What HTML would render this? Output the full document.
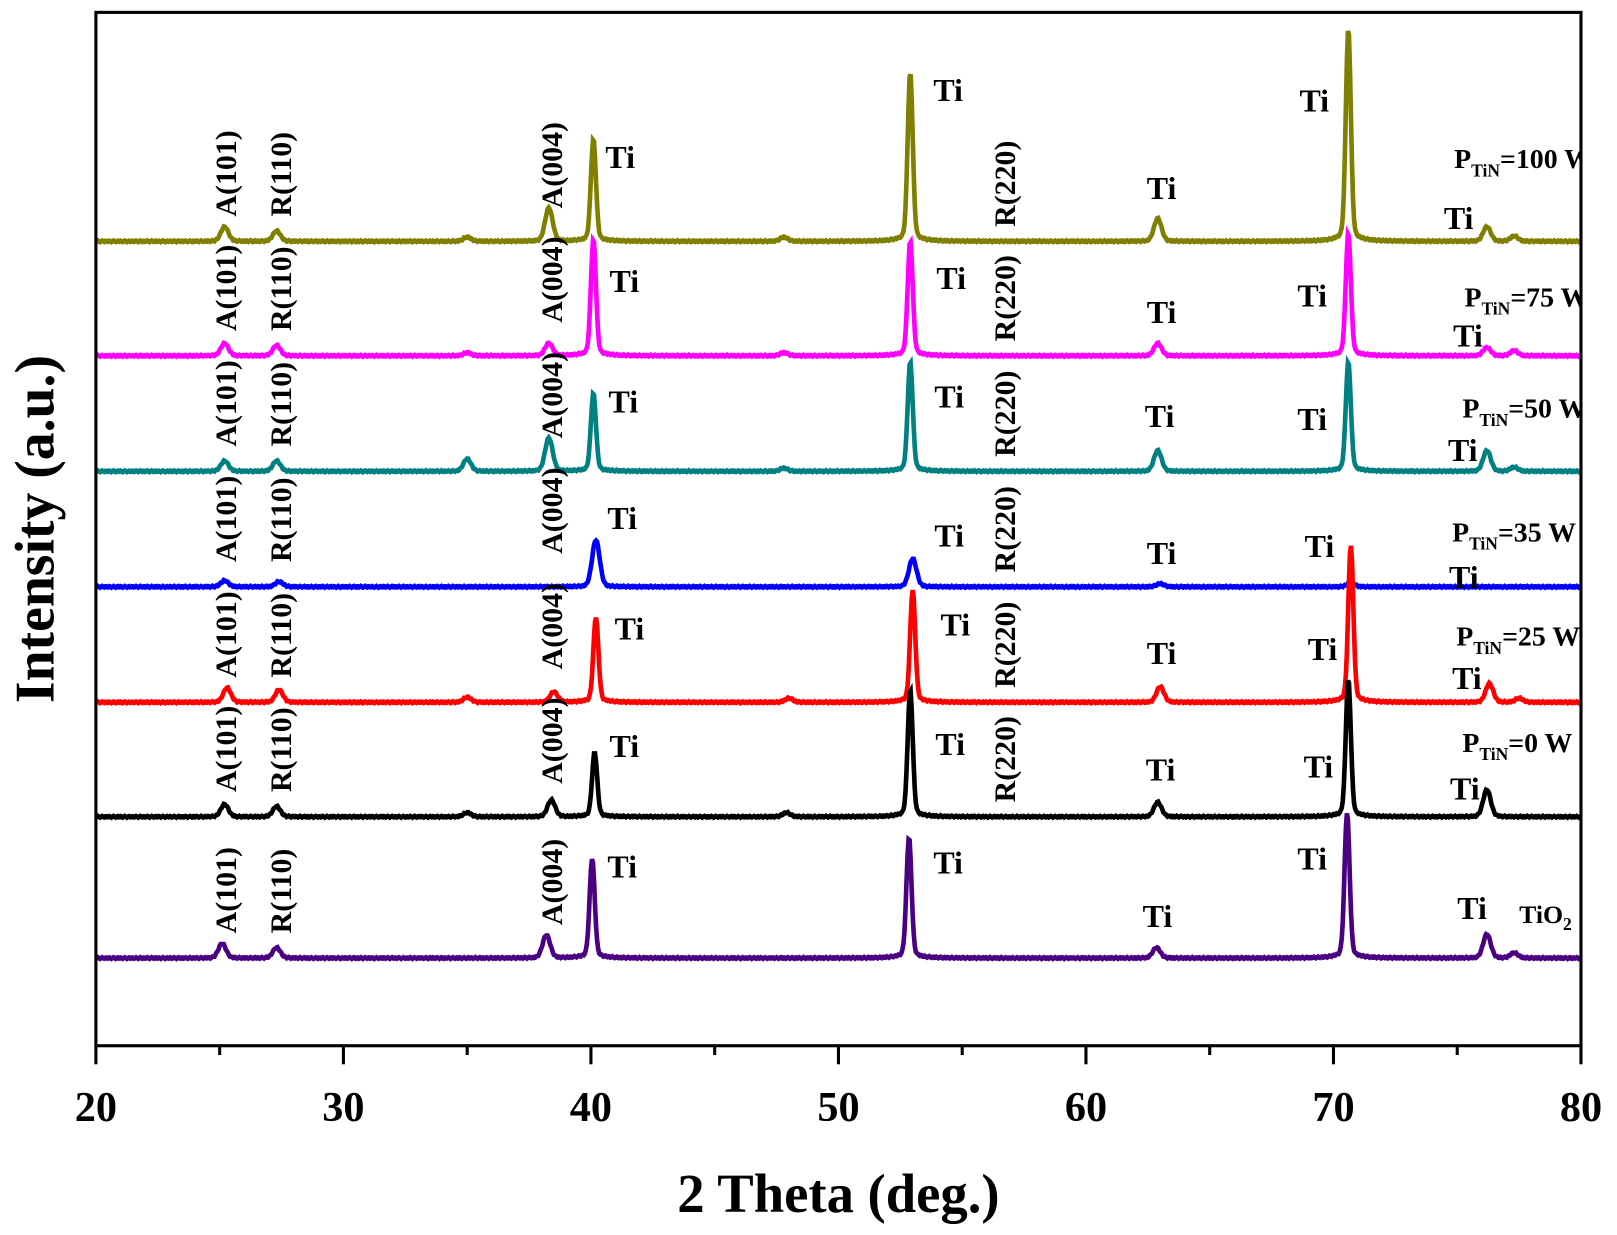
<!DOCTYPE html>
<html><head><meta charset="utf-8"><style>
body{margin:0;background:#fff}
svg{display:block}
text{font-family:"Liberation Serif",serif;font-weight:bold;fill:#000}
</style></head><body>
<svg id="s" width="1617" height="1235" xmlns="http://www.w3.org/2000/svg">
<defs><clipPath id="c"><rect x="93" y="12" width="1440" height="1002"/></clipPath></defs>
<g transform="scale(1.0313)">
<g id="curves" clip-path="url(#c)"></g>
<g id="labs" clip-path="url(#c)" font-size="31"></g>
<rect x="93" y="12" width="1440" height="1002" fill="none" stroke="#000" stroke-width="3"/>
<g id="ticks" stroke="#000" stroke-width="3"></g>
<g font-size="41" text-anchor="middle">
<text x="93" y="1087">20</text><text x="333" y="1087">30</text><text x="573" y="1087">40</text>
<text x="813" y="1087">50</text><text x="1053" y="1087">60</text><text x="1293" y="1087">70</text><text x="1533" y="1087">80</text>
</g>
<text x="813" y="1175" font-size="53" text-anchor="middle">2 Theta (deg.)</text>
<text transform="translate(52,513) rotate(-90)" font-size="54" text-anchor="middle">Intensity (a.u.)</text>
</g>
</svg>
<script>
const X=d=>93+(d-20)*24;
const S=[
['#808000',234,[[25.2,14],[27.3,10],[35,4],[38.3,32],[40.1,98],[47.8,4],[52.9,162],[62.9,22],[70.6,204],[76.2,14],[77.3,5]]],
['#ff00ff',345,[[25.2,12],[27.3,10],[35,3],[38.3,12],[40.1,112],[47.8,3],[52.9,110],[62.9,12],[70.6,118],[76.2,8],[77.3,5]]],
['#008080',457,[[25.2,10],[27.3,10],[35,12],[38.3,32],[40.1,75],[47.8,3],[52.9,105],[62.9,20],[70.6,105],[76.2,20],[77.3,4]]],
['#0000ff',569,[[25.2,6],[27.4,5],[40.2,45],[53.0,27],[63.0,3],[70.7,4]]],
['#ff0000',681,[[25.3,14],[27.4,12],[35,5],[38.5,10],[40.2,82],[48,4],[53.0,108],[63.0,15],[70.7,151],[76.3,18],[77.5,4]]],
['#000000',792,[[25.2,12],[27.3,10],[35,4],[38.4,16],[40.15,62],[47.9,4],[52.9,122],[62.9,14],[70.6,132],[76.2,26]]],
['#4b0082',929,[[25.1,14],[27.3,10],[38.2,22],[40.05,96],[52.85,116],[62.85,10],[70.55,140],[76.2,23],[77.3,5]]]
];
let h='';
for(const [col,b,pk] of S){
 let d='';
 for(let px=93;px<=1533;px+=1){
  const t=20+(px-93)/24;let y=b;
  for(const [p,a] of pk){const w=(a>60?0.1:0.15);y-=a*0.95*Math.exp(-((t-p)**2)/(2*w*w));
   y-=a*0.06/(1+((t-p)/0.35)**2);}
  y+=Math.sin(px*1.7)*0.7;
  d+=(px==93?'M':'L')+px+' '+y.toFixed(1);
 }
 h+=`<path d="${d}" fill="none" stroke="${col}" stroke-width="4.5"/>`;
}
document.getElementById('curves').innerHTML=h;
let L='';
const rot=(x,y,s)=>`<text transform="translate(${x},${y}) rotate(-90)" font-size="29">${s}</text>`;
const bases=[234,345,457,569,681,792,929];
bases.forEach((b,i)=>{
 L+=rot(229,b-24,'A(101)')+rot(282,b-24,'R(110)')+rot(545,b-32,'A(004)');
 if(i<6)L+=rot(984,b-14,'R(220)');
});
const ti=[[587,163],[905,98],[1260,108],[1112,193],[1400,222],[591,283],[908,280],[1258,297],[1112,313],[1409,336],
[590,400],[906,395],[1258,417],[1110,414],[1404,447],[589,513],[906,530],[1265,540],[1112,547],[1405,570],
[596,620],[912,616],[1268,640],[1112,644],[1408,668],[591,734],[907,732],[1264,754],[1111,757],[1406,775],
[589,851],[905,847],[1258,843],[1108,899],[1413,891]];
ti.forEach(([x,y])=>L+=`<text x="${x}" y="${y}">Ti</text>`);
L+=`<text x="1473" y="895" font-size="25">TiO<tspan font-size="17" dy="7">2</tspan></text>`;
const lg=[[1410,163,'100'],[1420,297,'75'],[1418,405,'50'],[1408,525,'35'],[1412,626,'25'],[1418,729,'0']];
lg.forEach(([x,y,v])=>L+=`<text x="${x}" y="${y}" font-size="27">P<tspan font-size="17" dy="8">TiN</tspan><tspan dy="-8">=${v} W</tspan></text>`);
document.getElementById('labs').innerHTML=L;
let T='';
for(let d=20;d<=80;d+=5){const x=X(d);T+=`<line x1="${x}" y1="1014" x2="${x}" y2="${d%10==0?1032:1023}"/>`;}
document.getElementById('ticks').innerHTML=T;
</script>
</body></html>
